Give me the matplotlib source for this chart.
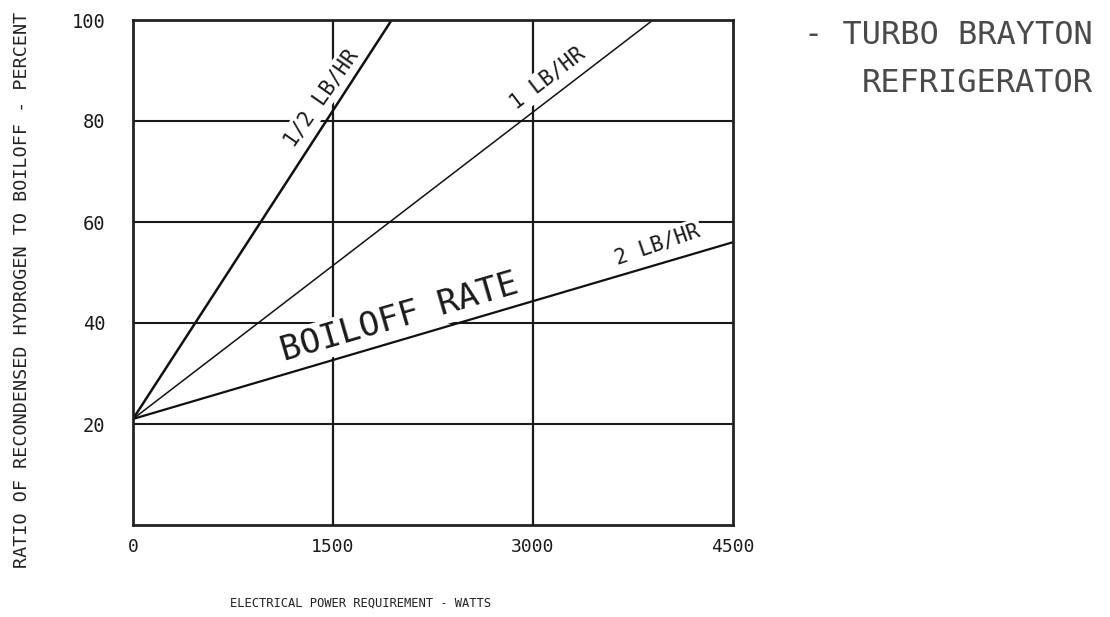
import matplotlib
matplotlib.use("Agg")
import matplotlib.pyplot as plt
import numpy as np

# ---- data ----
power_w = [0, 4500]
start_pct = 21.0
half_lb_x = [0, 1940]
half_lb_y = [21.0, 100.0]
one_lb_x = [0, 3900]
one_lb_y = [21.0, 100.0]
two_lb_x = [0, 4500]
two_lb_y = [21.0, 56.0]
x_ticks = [0, 1500, 3000, 4500]
x_ticklabels = ["0", "1500", "3000", "4500"]
y_ticks = [20, 40, 60, 80, 100]
y_ticklabels = ["20", "40", "60", "80", "100"]

MONO = ["DejaVu Sans Mono"]

fig = plt.figure(figsize=(11.1, 6.17), dpi=100)
ax = fig.add_axes([133/1110, 1-525/617, 600/1110, 505/617])
ax.set_xlim(0, 4500)
ax.set_ylim(0, 100)

# grid
for yv in [20, 40, 60, 80]:
    ax.axhline(yv, color="#1a1a1a", lw=1.5, zorder=1)
for xv in [1500, 3000]:
    ax.axvline(xv, color="#1a1a1a", lw=1.6, zorder=1)

# lines
ax.plot(half_lb_x, half_lb_y, color="#111111", lw=1.8, zorder=4, solid_capstyle="round")
ax.plot(one_lb_x, one_lb_y, color="#111111", lw=1.1, zorder=4)
ax.plot(two_lb_x, two_lb_y, color="#111111", lw=1.6, zorder=4)

bb = dict(facecolor="white", edgecolor="none", pad=2)
ax.text(1410, 84.5, "1/2 LB/HR", rotation=55, ha="center", va="center",
        fontsize=15, family=MONO, color="#1a1a1a", zorder=3, bbox=bb,
        rotation_mode="anchor")
ax.text(3112, 88.5, "1 LB/HR", rotation=37.5, ha="center", va="center",
        fontsize=15, family=MONO, color="#1a1a1a", zorder=3, bbox=bb,
        rotation_mode="anchor")
ax.text(3930, 55.5, "2 LB/HR", rotation=19, ha="center", va="center",
        fontsize=15, family=MONO, color="#1a1a1a", zorder=3, bbox=bb,
        rotation_mode="anchor")
ax.text(1995, 41.0, "BOILOFF RATE", rotation=16.2, ha="center", va="center",
        fontsize=24.5, family=MONO, color="#1a1a1a", zorder=3, bbox=bb,
        rotation_mode="anchor")

for s in ax.spines.values():
    s.set_linewidth(2.0)
    s.set_color("#222222")
    s.set_zorder(5)

ax.set_xticks(x_ticks)
ax.set_xticklabels(x_ticklabels, family=MONO, fontsize=13)
ax.set_yticks(y_ticks)
ax.set_yticklabels(y_ticklabels, family=MONO, fontsize=13.5)
ax.tick_params(axis="both", length=0, colors="#1a1a1a")
ax.tick_params(axis="x", pad=9)
ax.tick_params(axis="y", pad=20)

fig.text(22/1110, 1-290/617, "RATIO OF RECONDENSED HYDROGEN TO BOILOFF - PERCENT",
         rotation=90, ha="center", va="center", fontsize=13.2, family=MONO,
         color="#222222")
fig.text(360/1110, 1-603/617, "ELECTRICAL POWER REQUIREMENT - WATTS",
         ha="center", va="center", fontsize=8.7, family=MONO, color="#222222")

fig.text(1093/1110, 1-35/617, "- TURBO BRAYTON", ha="right", va="center",
         fontsize=23, family=MONO, color="#4a4a4a")
fig.text(1093/1110, 1-84/617, "REFRIGERATOR", ha="right", va="center",
         fontsize=23, family=MONO, color="#4a4a4a")

fig.savefig("out.png", dpi=100, facecolor="white")
